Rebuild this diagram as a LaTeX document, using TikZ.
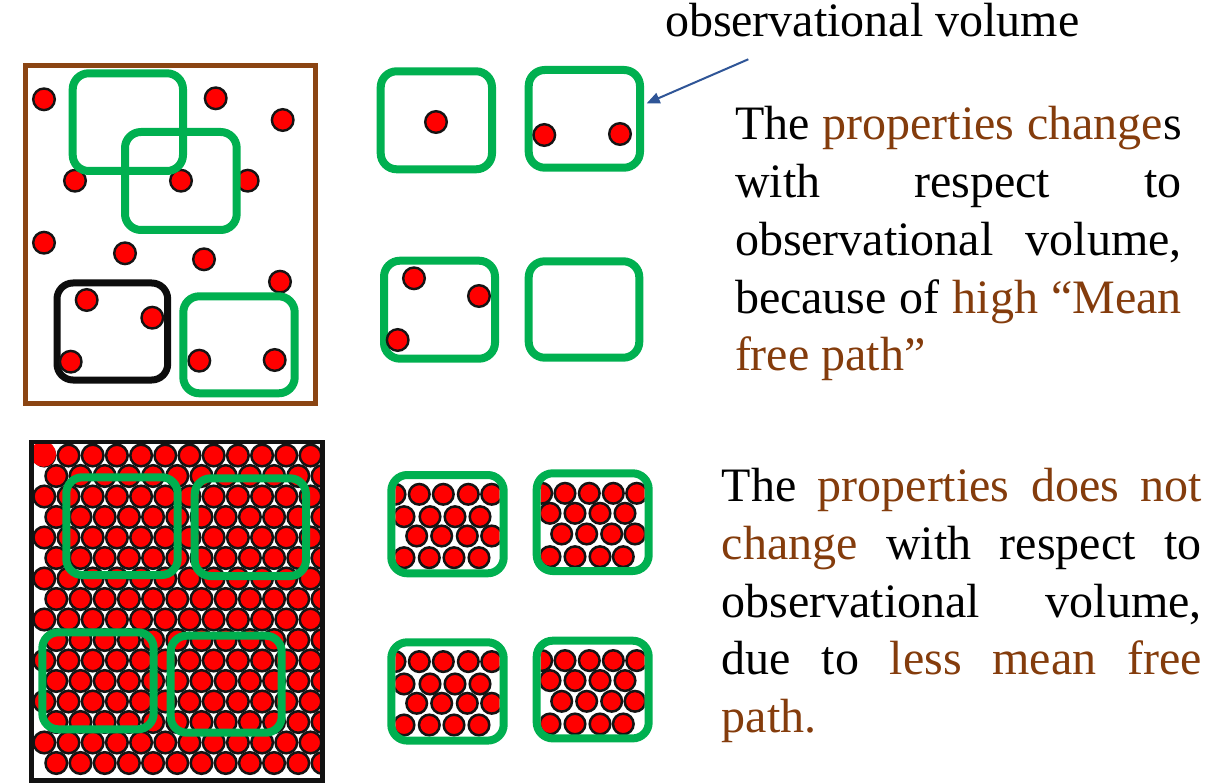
\documentclass[tikz,border=0pt]{standalone}
\usepackage{fontspec}
\setmainfont{Liberation Serif}
\usetikzlibrary{arrows.meta}
\definecolor{gr}{HTML}{00B050}
\definecolor{txtbrown}{HTML}{843C0C}
\definecolor{framebrown}{HTML}{8B4513}
\definecolor{arrowblue}{HTML}{2F5597}
\definecolor{dotred}{HTML}{FF0000}
\definecolor{dotedge}{HTML}{141414}
\tikzset{
  obsbox/.style={draw=gr, line width=8pt, rounded corners=16pt, inner sep=0pt, outer sep=0pt},
  blkbox/.style={draw=black!95, line width=7pt, rounded corners=16pt, inner sep=0pt, outer sep=0pt},
  sparsedot/.style={fill=dotred, draw=dotedge, line width=2.4pt},
  densedot/.style={fill=dotred, draw=dotedge, line width=2.5pt},
  smalldot/.style={fill=dotred, draw=dotedge, line width=2.5pt},
  txt/.style={inner sep=0pt, outer sep=0pt, anchor=base west, font=\fontsize{48}{57.7}\selectfont},
  pointer/.style={draw=arrowblue, line width=2pt, -{Triangle[length=13pt,width=11pt]}},
}
\newcommand{\br}[1]{\textcolor{txtbrown}{#1}}
\begin{document}
\begin{tikzpicture}[x=1pt,y=-1pt]
\fill[white] (0,0) rectangle (1212,783);
\path[use as bounding box] (0,0) rectangle (1212,783);

% ---------- top-left: sparse gas ----------
\node[blkbox, minimum width=110.7pt, minimum height=97pt] (blk) at (112.35,331.5) {};
\foreach \px/\py in {44/99.3, 215.7/98.3, 282.7/120, 75/180.7, 181/180.7, 247.7/180.7,
  44/242.7, 125/253.3, 204/259.3, 280/281.7, 86.7/300, 152.3/317.7, 70.7/361.7,
  199.3/360.7, 274.7/360}
  \draw[sparsedot] (\px,\py) circle[radius=10.8];
\node[obsbox, minimum width=110.3pt, minimum height=97.7pt] (tlA) at (127.85,122.15) {};
\node[obsbox, minimum width=111.7pt, minimum height=98pt] (tlB) at (180.85,181) {};
\node[obsbox, minimum width=111.4pt, minimum height=97pt] (tlC) at (239,344.8) {};
\draw[framebrown, line width=5pt] (25.5,66) rectangle (315,403);

% ---------- top-right: sampled volumes ----------
\node[obsbox, minimum width=111.3pt, minimum height=98pt] (tr1) at (436.35,120.3) {};
\node[obsbox, minimum width=111.3pt, minimum height=97.7pt] (tr2) at (584.35,118.85) {};
\node[obsbox, minimum width=111pt, minimum height=98pt] (tr3) at (439.5,309.7) {};
\node[obsbox, minimum width=110.6pt, minimum height=96.4pt] (tr4) at (584,309.5) {};
\foreach \px/\py in {436/122, 544.3/135, 620/134, 414/278.3, 479/296, 397.7/340}
  \draw[sparsedot] (\px,\py) circle[radius=10.8];

% ---------- bottom-left: dense packing ----------
\begin{scope}
  \clip (33.5,444.3) rectangle (320.2,778.2);
  \foreach \r in {0,...,15}{
    \pgfmathsetmacro{\yy}{455.5+20.5*\r}
    \pgfmathsetmacro{\xs}{mod(\r,2)==1 ? 56.3 : 44.3}
    \foreach \c in {0,...,11}{
      \draw[densedot] ({\xs+24.2*\c},\yy) circle[radius=10.8];
    }
  }
  \fill[dotred] (43.3,454) circle[radius=12.8];
\end{scope}
\draw[black!93, line width=4.5pt] (31.3,442) rectangle (322.5,780.5);
\node[obsbox, minimum width=111.4pt, minimum height=97.7pt] (blA) at (122,526.15) {};
\node[obsbox, minimum width=111.3pt, minimum height=97.7pt] (blB) at (250.35,527.15) {};
\node[obsbox, minimum width=111.4pt, minimum height=97pt] (blC) at (98,680.8) {};
\node[obsbox, minimum width=111pt, minimum height=97pt] (blD) at (226.2,684.2) {};

% ---------- bottom-right: sampled dense volumes ----------
\foreach \dy in {0,167.3}{
  \begin{scope}
    \clip (395.3,479+\dy) rectangle (499.7,569.3+\dy);
    \foreach \px/\py in {395/494.3, 419.3/494.3, 443.3/494.3, 468.3/494.3, 491.7/494.3,
      404/516.7, 430/516.7, 455/516.7, 480/516.7,
      416.7/536, 441.7/536, 467.3/536, 491.7/536,
      404/557.7, 429.3/557.7, 454/557.7, 479/557.7}
      \draw[smalldot] (\px,{\py+\dy}) circle[radius=10.3];
  \end{scope}
  \begin{scope}
    \clip (540.7,477.3+\dy) rectangle (644.7,567+\dy);
    \foreach \px/\py in {541.7/493.3, 565/493.3, 589.3/493.3, 613.3/493.3, 636.7/493.3,
      550/513.3, 575/513.3, 600/513.3, 625/513.3,
      561.7/534, 586.7/534, 611.7/534, 635/534,
      550/556.7, 575/556.7, 600/556.7, 623.3/556.7}
      \draw[smalldot] (\px,{\py+\dy}) circle[radius=10.3];
  \end{scope}
}
\node[obsbox, minimum width=112.4pt, minimum height=98.3pt] (br1) at (447.5,524.15) {};
\node[obsbox, minimum width=112pt, minimum height=97.7pt] (br2) at (592.7,522.15) {};
\node[obsbox, minimum width=112.4pt, minimum height=98.3pt] (br3) at (447.5,691.45) {};
\node[obsbox, minimum width=112pt, minimum height=97.7pt] (br4) at (592.7,689.55) {};

% ---------- label and pointer ----------
\node[txt] (obslabel) at (665,36.7) {observational volume};
\coordinate (ptrstart) at (748.3,59.3);
\coordinate (ptrtip) at (646.7,103.3);
\draw[pointer] (ptrstart) -- (ptrtip);

% ---------- top paragraph ----------
\node[txt] (p1l1) at (735,140) {\makebox[446.7pt][s]{The \br{properties change}s}};
\node[txt] (p1l2) at (735,197.7) {\makebox[446.7pt][s]{with respect to}};
\node[txt] (p1l3) at (735,255.4) {\makebox[446.7pt][s]{observational volume,}};
\node[txt] (p1l4) at (735,313.1) {\makebox[446.7pt][s]{because of \br{high “Mean}}};
\node[txt] (p1l5) at (735,370.8) {\br{free path”}};

% ---------- bottom paragraph ----------
\node[txt] (p2l1) at (721.7,501.7) {\makebox[480pt][s]{The \br{properties does not}}};
\node[txt] (p2l2) at (721.7,559.4) {\makebox[480pt][s]{\br{change} with respect to}};
\node[txt] (p2l3) at (721.7,617.1) {\makebox[480pt][s]{observational volume,}};
\node[txt] (p2l4) at (721.7,674.8) {\makebox[480pt][s]{due to \br{less mean free}}};
\node[txt] (p2l5) at (721.7,732.5) {\br{path.}};
\end{tikzpicture}
\end{document}
